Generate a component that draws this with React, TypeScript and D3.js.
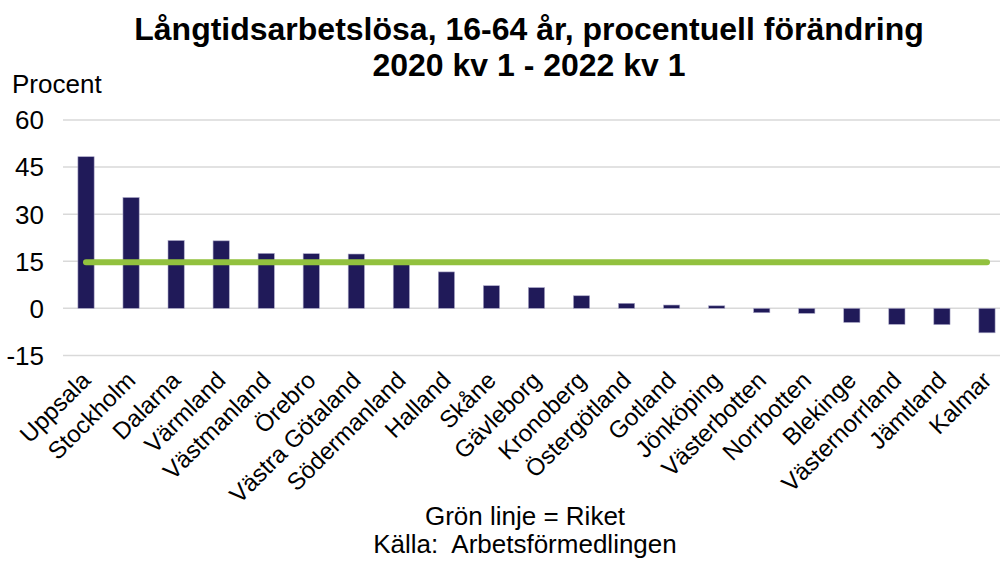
import React, { useEffect, useRef } from 'react';
import * as d3 from 'd3';

const regions = [
    'Uppsala', 'Stockholm', 'Dalarna', 'Värmland', 'Västmanland', 'Örebro', 'Västra Götaland',
    'Södermanland', 'Halland', 'Skåne', 'Gävleborg', 'Kronoberg', 'Östergötland', 'Gotland',
    'Jönköping', 'Västerbotten', 'Norrbotten', 'Blekinge', 'Västernorrland', 'Jämtland', 'Kalmar',
];
const change = [
    48.3, 35.3, 21.6, 21.5, 17.5, 17.4, 17.3, 14.6, 11.6, 7.2, 6.6, 4.0, 1.6, 1.05, 0.8,
    -1.4, -1.6, -4.5, -5.1, -5.2, -7.8,
];
const riket = 14.7;
const yTicks = [-15, 0, 15, 30, 45, 60];

const width = 1000;
const height = 561;
const font = '"Liberation Sans", Arial, sans-serif';

const App = () => {
    const svgRef = useRef<SVGSVGElement>(null);

    useEffect(() => {
        const svg = d3.select(svgRef.current);
        svg.selectAll('*').remove();

        const x = d3.scaleBand().domain(regions).range([63.5, 1009.5]).paddingInner(0.64).paddingOuter(0.32);
        const y = d3.scaleLinear().domain([-15, 60]).range([355.4, 120]);

        // Gridlines
        svg.append('g')
            .selectAll('line')
            .data(yTicks)
            .enter()
            .append('line')
            .attr('x1', 63)
            .attr('x2', width)
            .attr('y1', (d) => y(d))
            .attr('y2', (d) => y(d))
            .style('stroke', '#d9d9d9')
            .style('stroke-width', 1.5);

        // Y tick labels
        svg.append('g')
            .selectAll('text')
            .data(yTicks)
            .enter()
            .append('text')
            .attr('x', 44)
            .attr('y', (d) => y(d))
            .attr('dy', '0.36em')
            .attr('text-anchor', 'end')
            .style('font-family', font)
            .style('font-size', '26px')
            .style('fill', '#000')
            .text((d) => d);

        // Bars
        svg.append('g')
            .selectAll('rect')
            .data(regions)
            .enter()
            .append('rect')
            .attr('x', (d) => x(d)!)
            .attr('width', x.bandwidth())
            .attr('y', (d, i) => y(Math.max(0, change[i])))
            .attr('height', (d, i) => Math.abs(y(change[i]) - y(0)))
            .style('fill', '#201A59')
            .style('stroke', '#a9a6c6')
            .style('stroke-width', 0.6);

        // Riket line
        const cx = (d: string) => x(d)! + x.bandwidth() / 2;
        svg.append('line')
            .attr('x1', cx(regions[0]))
            .attr('x2', cx(regions[regions.length - 1]))
            .attr('y1', y(riket))
            .attr('y2', y(riket))
            .style('stroke', '#92C13E')
            .style('stroke-width', 6)
            .style('stroke-linecap', 'round');

        // X labels
        svg.append('g')
            .selectAll('text')
            .data(regions)
            .enter()
            .append('text')
            .attr('transform', (d) => `translate(${cx(d) - 6}, 370) rotate(-45)`)
            .attr('text-anchor', 'end')
            .attr('dy', '0.7em')
            .style('font-family', font)
            .style('font-size', '24px')
            .style('fill', '#000')
            .text((d) => d);

        // Titles
        const title = [
            { t: 'Långtidsarbetslösa, 16-64 år, procentuell förändring', y: 40 },
            { t: '2020 kv 1 - 2022 kv 1', y: 76 },
        ];
        svg.append('g')
            .selectAll('text')
            .data(title)
            .enter()
            .append('text')
            .attr('x', 529)
            .attr('y', (d) => d.y)
            .attr('text-anchor', 'middle')
            .style('font-family', font)
            .style('font-weight', 'bold')
            .style('font-size', '32px')
            .style('fill', '#000')
            .text((d) => d.t);

        svg.append('text')
            .attr('x', 12)
            .attr('y', 93)
            .style('font-family', font)
            .style('font-size', '26px')
            .style('fill', '#000')
            .text('Procent');

        const footer = [
            { t: 'Grön linje = Riket', y: 525 },
            { t: 'Källa:  Arbetsförmedlingen', y: 553 },
        ];
        svg.append('g')
            .selectAll('text')
            .data(footer)
            .enter()
            .append('text')
            .attr('x', 525)
            .attr('y', (d) => d.y)
            .attr('text-anchor', 'middle')
            .style('font-family', font)
            .style('font-size', '26px')
            .style('white-space', 'pre')
            .style('fill', '#000')
            .text((d) => d.t);
    }, []);

    return (
        <div style={{ position: 'fixed', left: 0, top: 0, width, height, background: '#fff' }}>
            <svg ref={svgRef} width={width} height={height} style={{ display: 'block' }} />
        </div>
    );
};

export default App;
